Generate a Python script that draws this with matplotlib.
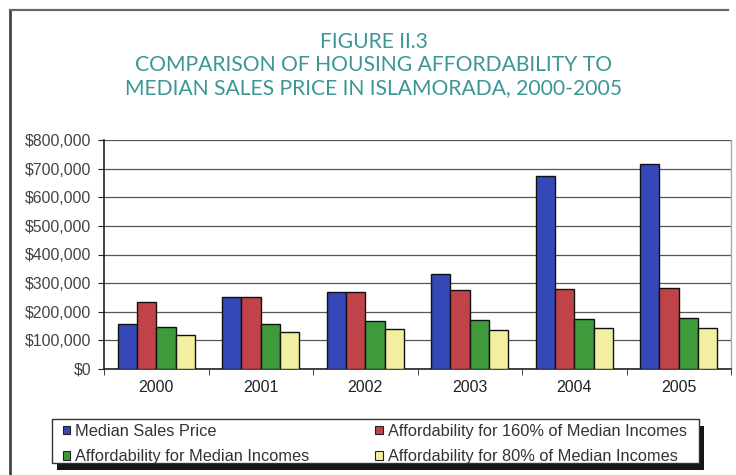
import matplotlib
matplotlib.use("Agg")
import matplotlib.pyplot as plt
from matplotlib.lines import Line2D
from matplotlib.patches import Rectangle, Patch
from matplotlib.ticker import FuncFormatter, MultipleLocator
import numpy as np

years = ["2000", "2001", "2002", "2003", "2004", "2005"]
median_sales_price = [156000, 253000, 270000, 331000, 675000, 716000]
afford_160 = [235000, 253000, 268000, 275000, 278000, 284000]
afford_median = [147000, 156000, 169000, 170000, 175000, 179000]
afford_80 = [119000, 128000, 139000, 137000, 142000, 143000]

series_names = [
    "Median Sales Price",
    "Affordability for 160% of Median Incomes",
    "Affordability for Median Incomes",
    "Affordability for 80% of Median Incomes",
]
series_values = [median_sales_price, afford_160, afford_median, afford_80]
series_colors = ["#3548b8", "#c0434a", "#3f9a3c", "#f2f0a0"]

title_lines = ["FIGURE II.3",
               "COMPARISON OF HOUSING AFFORDABILITY TO",
               "MEDIAN SALES PRICE IN ISLAMORADA, 2000-2005"]

W, H = 736, 475
fig = plt.figure(figsize=(W / 100, H / 100), dpi=100)
fig.patch.set_facecolor("white")

# outer frame (top and left edges)
fig.add_artist(Line2D([10 / W, 10 / W], [0, 1 - 10 / H], color="#444444", lw=2))
fig.add_artist(Line2D([10 / W, 728 / W], [1 - 10 / H, 1 - 10 / H], color="#666666", lw=1.6))

# title
title_color = "#3c9696"
ys = [42, 65, 88]
for txt, y in zip(title_lines, ys):
    fig.text(374 / W, 1 - y / H, txt, ha="center", va="center",
             fontsize=15.2, color=title_color, family="Lato")

ax = fig.add_axes([104 / W, 1 - 369 / H, (731 - 104) / W, (369 - 140) / H])
x = np.arange(len(years))
bw = 0.185
offsets = (np.arange(4) - 1.5) * bw
for vals, col, off, name in zip(series_values, series_colors, offsets, series_names):
    ax.bar(x + off, vals, width=bw, color=col, edgecolor="#111111", linewidth=1.0,
           label=name, zorder=3)

ax.set_xlim(-0.5, len(years) - 0.5)
ax.set_ylim(0, 800000)
ax.yaxis.set_major_locator(MultipleLocator(100000))
ax.yaxis.set_major_formatter(FuncFormatter(lambda v, p: "${:,.0f}".format(v)))
ax.grid(axis="y", color="#555555", lw=0.9, zorder=0)
ax.set_axisbelow(True)

ax.set_xticks(x)
ax.set_xticklabels(years)
ax.set_xticks(np.arange(len(years) + 1) - 0.5, minor=True)
ax.tick_params(axis="x", which="major", length=0, pad=8, labelsize=11.5,
               labelcolor="#222222")
ax.tick_params(axis="x", which="minor", length=4, direction="out", color="#222222")
ax.tick_params(axis="y", length=4, direction="out", color="#222222", labelsize=11.4,
               labelcolor="#444444", pad=5)
for lab in ax.get_xticklabels() + ax.get_yticklabels():
    lab.set_family("Liberation Sans")

ax.spines["top"].set_visible(False)
ax.spines["right"].set_color("#aaaaaa")
ax.spines["right"].set_linewidth(1.0)
ax.spines["left"].set_color("#222222")
ax.spines["bottom"].set_color("#222222")
ax.spines["left"].set_linewidth(1.2)
ax.spines["bottom"].set_linewidth(1.2)

# legend box with drop shadow
lx0, ly0, lx1, ly1 = 52, 419, 699, 463
fig.add_artist(Rectangle(((lx0 + 5) / W, 1 - (ly1 + 7) / H),
                         (lx1 - lx0) / W, (ly1 - ly0) / H, transform=fig.transFigure,
                         facecolor="#151515", edgecolor="none", zorder=1))
fig.add_artist(Rectangle((lx0 / W, 1 - ly1 / H), (lx1 - lx0) / W, (ly1 - ly0) / H,
                         transform=fig.transFigure, facecolor="white",
                         edgecolor="#333333", lw=1.0, zorder=2))
handles = [Patch(facecolor=c, edgecolor="#222222", lw=0.8) for c in series_colors]
order = [0, 2, 1, 3]
leg = fig.legend([handles[i] for i in order], [series_names[i] for i in order],
                 ncol=2, loc="center left", bbox_to_anchor=(56 / W, 1 - 444 / H),
                 frameon=False, prop={"family": "Liberation Sans", "size": 11.8},
                 handlelength=0.45, handleheight=0.45, handletextpad=0.3,
                 columnspacing=4.05, labelspacing=0.62, borderaxespad=0)
for t in leg.get_texts():
    t.set_color("#333333")
leg.set_zorder(3)

fig.savefig("out.png", dpi=100)
